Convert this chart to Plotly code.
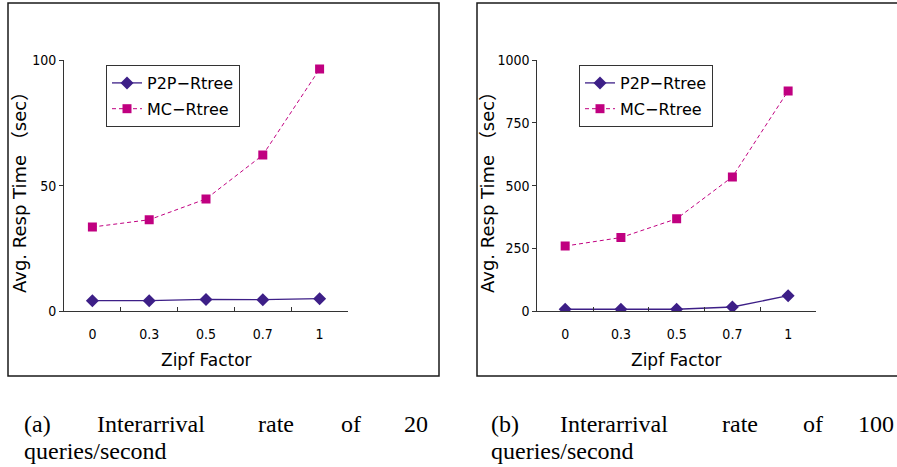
import plotly.graph_objects as go

# ---- data ----
zipf = ["0", "0.3", "0.5", "0.7", "1"]
p2p_20 = [4.1, 4.1, 4.6, 4.5, 4.9]
mc_20 = [33.5, 36.4, 44.7, 62.2, 96.5]
p2p_100 = [7, 7, 7, 16, 61]
mc_100 = [259, 293, 368, 535, 878]
yticks_20 = [0, 50, 100]
yticks_100 = [0, 250, 500, 750, 1000]
series_names = ["P2P−Rtree", "MC−Rtree"]
ytitle = "Avg. Resp Time （sec）"
xtitle = "Zipf Factor"
caption_a = ["(a)", "Interarrival", "rate", "of", "20"]
caption_b = ["(b)", "Interarrival", "rate", "of", "100"]
caption_line2 = "queries/second"

W, H = 897, 467
P2P_C = "#3d1f87"
MC_C = "#c00080"
AXC = "#333333"
TICKFONT = dict(family="Liberation Sans Narrow, Arial Narrow, DejaVu Sans Condensed, sans-serif", size=14, color="black")
YTFONT = dict(family="DejaVu Sans, Noto Sans CJK JP, sans-serif", size=18, color="black")
LABFONT = dict(family="DejaVu Sans, Noto Sans CJK JP, sans-serif", size=17, color="black")
LEGFONT = dict(family="DejaVu Sans, Noto Sans CJK JP, sans-serif", size=16, color="black")
CAPFONT = dict(family="Liberation Serif, Times New Roman, serif", size=24, color="black")


def px(x):
    return x / W


def py(y):
    return 1 - y / H


fig = go.Figure()

panels = [
    (p2p_20, mc_20, "x", "y", "legend"),
    (p2p_100, mc_100, "x2", "y2", "legend2"),
]
for i, (p2p, mc, xa, ya, lg) in enumerate(panels):
    fig.add_trace(go.Scatter(
        x=zipf, y=p2p, name=series_names[0], mode="lines+markers",
        line=dict(color=P2P_C, width=1.3),
        marker=dict(symbol="diamond", size=10, color=P2P_C),
        xaxis=xa, yaxis=ya, legend=lg, legendgroup=f"p{i}"))
    fig.add_trace(go.Scatter(
        x=zipf, y=mc, name=series_names[1], mode="lines+markers",
        line=dict(color=MC_C, width=1, dash="4px,3px"),
        marker=dict(symbol="square", size=9, color=MC_C),
        xaxis=xa, yaxis=ya, legend=lg, legendgroup=f"m{i}"))

xcommon = dict(type="category", categoryorder="array", categoryarray=zipf,
               range=[-0.5, 4.5], showline=True, linecolor=AXC, linewidth=1,
               ticks="inside", ticklen=4, tickcolor=AXC, tickson="boundaries",
               tickfont=TICKFONT, ticklabelstandoff=10, showgrid=False, zeroline=False,
               fixedrange=True, automargin=False)
ycommon = dict(showline=True, linecolor=AXC, linewidth=1, ticks="outside",
               ticklen=4, tickcolor=AXC, tickfont=TICKFONT, showgrid=False,
               zeroline=False, tickmode="array", fixedrange=True, automargin=False)

ydom = [py(311), py(60.3)]
fig.update_layout(
    width=W, height=H, margin=dict(l=0, r=0, t=0, b=0, pad=0),
    paper_bgcolor="white", plot_bgcolor="white",
    xaxis=dict(xcommon, domain=[px(64), px(348)], anchor="y"),
    yaxis=dict(ycommon, domain=ydom, range=[0, 100], tickvals=yticks_20, anchor="x"),
    xaxis2=dict(xcommon, domain=[px(537.3), px(816)], anchor="y2"),
    yaxis2=dict(ycommon, domain=ydom, range=[0, 1000], tickvals=yticks_100, anchor="x2"),
    legend=dict(x=px(106), y=py(65), xanchor="left", yanchor="top",
                bordercolor=AXC, borderwidth=1, bgcolor="white",
                font=LEGFONT, traceorder="grouped", tracegroupgap=2),
    legend2=dict(x=px(579), y=py(65), xanchor="left", yanchor="top",
                 bordercolor=AXC, borderwidth=1, bgcolor="white",
                 font=LEGFONT, traceorder="grouped", tracegroupgap=2),
    showlegend=True,
)

# panel frames
fig.add_shape(type="rect", xref="paper", yref="paper", x0=px(8), x1=px(439),
              y0=py(376), y1=py(3), line=dict(color="#1a1a1a", width=1.5))
fig.add_shape(type="rect", xref="paper", yref="paper", x0=px(477), x1=1.01,
              y0=py(376), y1=py(3), line=dict(color="#1a1a1a", width=1.5))

# axis titles
for xc in (20, 488):
    fig.add_annotation(text=ytitle, xref="paper", yref="paper", x=px(xc), y=py(188),
                       textangle=-90, showarrow=False, font=YTFONT,
                       xanchor="center", yanchor="middle")
for xc in (206.7, 676.7):
    fig.add_annotation(text=xtitle, xref="paper", yref="paper", x=px(xc), y=py(360),
                       showarrow=False, font=LABFONT, xanchor="center", yanchor="middle")

# captions (justified first line)
pos_a = [22, 95, 256, 339, 430]
pos_b = [489, 558, 720, 801, 896]
for words, pos in ((caption_a, pos_a), (caption_b, pos_b)):
    for k, (wd, xx) in enumerate(zip(words, pos)):
        fig.add_annotation(text=wd, xref="paper", yref="paper", x=px(xx), y=py(424),
                           showarrow=False, font=CAPFONT,
                           xanchor="right" if k == len(words) - 1 else "left",
                           yanchor="middle")
    fig.add_annotation(text=caption_line2, xref="paper", yref="paper", x=px(pos[0]),
                       y=py(451), showarrow=False, font=CAPFONT,
                       xanchor="left", yanchor="middle")

fig.write_html("out.html", config={"displayModeBar": False},
               post_script="document.body.style.margin='0';document.body.style.overflow='hidden';")
